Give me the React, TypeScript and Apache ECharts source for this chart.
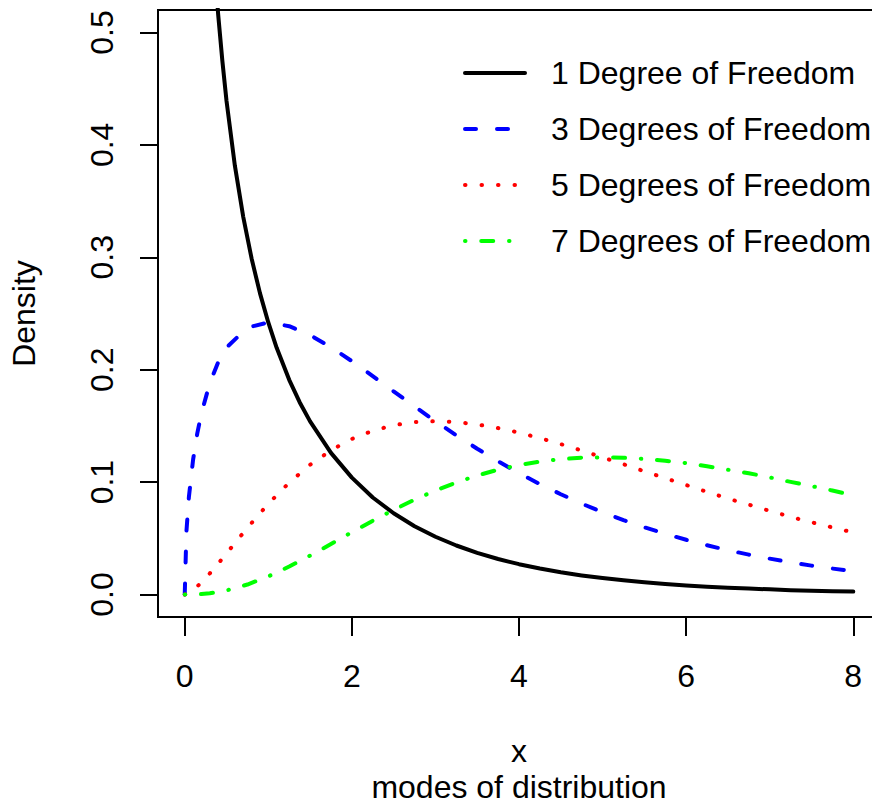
import React, { useEffect, useRef } from "react";
import * as echarts from "echarts";

const xValues = [0, 0.02, 0.05, 0.1, 0.15, 0.2, 0.3, 0.4, 0.5, 0.75, 1, 1.25, 1.5, 1.75, 2, 2.25, 2.5, 2.75, 3, 3.25, 3.5, 3.75, 4, 4.25, 4.5, 4.75, 5, 5.25, 5.5, 5.75, 6, 6.25, 6.5, 6.75, 7, 7.25, 7.5, 7.75, 8];
const xOne = [0.3, 0.35, 0.4, 0.45, 0.5, 0.6, 0.7, 0.8, 0.9, 1, 1.1, 1.25, 1.375, 1.5, 1.75, 2, 2.25, 2.5, 2.75, 3, 3.25, 3.5, 3.75, 4, 4.25, 4.5, 4.75, 5, 5.25, 5.5, 5.75, 6, 6.25, 6.5, 6.75, 7, 7.25, 7.5, 7.75, 8];

const df1 = [0.627, 0.5661, 0.516, 0.4749, 0.439, 0.3815, 0.336, 0.299, 0.2681, 0.242, 0.2195, 0.191, 0.1711, 0.154, 0.126, 0.104, 0.0863, 0.0723, 0.0608, 0.0514, 0.0436, 0.0371, 0.0316, 0.027, 0.0231, 0.0198, 0.017, 0.0146, 0.0126, 0.0109, 0.0094, 0.0081, 0.007, 0.0061, 0.0053, 0.0046, 0.0039, 0.0034, 0.003, 0.0026];
const df3 = [0, 0.0559, 0.087, 0.12, 0.1433, 0.1614, 0.1881, 0.2066, 0.2197, 0.2375, 0.242, 0.2387, 0.2308, 0.22, 0.2076, 0.1943, 0.1807, 0.1673, 0.1542, 0.1416, 0.1297, 0.1185, 0.108, 0.0982, 0.0892, 0.0809, 0.0732, 0.0662, 0.0598, 0.054, 0.0487, 0.0438, 0.0394, 0.0355, 0.0319, 0.0286, 0.0257, 0.0231, 0.0207];
const df5 = [0, 0.0004, 0.0015, 0.004, 0.0072, 0.0108, 0.0188, 0.0275, 0.0366, 0.0594, 0.0807, 0.0995, 0.1154, 0.1283, 0.1384, 0.1457, 0.1506, 0.1534, 0.1542, 0.1534, 0.1513, 0.1481, 0.144, 0.1391, 0.1338, 0.1281, 0.122, 0.1159, 0.1096, 0.1035, 0.0974, 0.0913, 0.0854, 0.0799, 0.0744, 0.0691, 0.0643, 0.0597, 0.0552];
const df7 = [0, 0, 0, 0.0001, 0.0002, 0.0004, 0.0011, 0.0022, 0.0037, 0.0089, 0.0161, 0.0249, 0.0346, 0.0449, 0.0554, 0.0656, 0.0753, 0.0844, 0.0925, 0.0997, 0.1059, 0.1111, 0.1152, 0.1182, 0.1204, 0.1217, 0.122, 0.1217, 0.1206, 0.119, 0.1169, 0.1141, 0.111, 0.1079, 0.1042, 0.1002, 0.0965, 0.0925, 0.0883];

const seriesNames = ["1 Degree of Freedom", "3 Degrees of Freedom", "5 Degrees of Freedom", "7 Degrees of Freedom"];
const seriesColors = ["#000000", "#0000ff", "#ff0000", "#00ff00"];
const xTicks = [0, 2, 4, 6, 8];
const yTicks = [0, 0.1, 0.2, 0.3, 0.4, 0.5];
const xTitle = "x";
const subTitle = "modes of distribution";
const yTitle = "Density";

const FONT = "'Liberation Sans', Arial, Helvetica, sans-serif";
const FS = 32;

export default function App() {
  const ref = useRef<HTMLDivElement>(null);
  useEffect(() => {
    if (!ref.current) return;
    document.body.style.overflow = "hidden";
    const chart = echarts.init(ref.current, null, { renderer: "svg" });
    const all = [df1, df3, df5, df7];
    const xsFor = [xOne, xValues, xValues, xValues];
    const dashes: any[] = ["solid", [11, 21], [0.5, 16], [0.5, 15.75, 12, 15.75]];
    const series = all.map((ys, i) => ({
      name: seriesNames[i],
      type: "line",
      symbol: "none",
      showSymbol: false,
      smooth: false,
      clip: true,
      data: xsFor[i].map((x, j) => [x, ys[j]]),
      lineStyle: { color: seriesColors[i], width: 4, type: dashes[i], cap: "round", join: "round" },
      itemStyle: { color: seriesColors[i] },
    }));
    chart.setOption({
      animation: false,
      backgroundColor: "#ffffff",
      textStyle: { fontFamily: FONT },
      grid: {
        left: 158, top: 10, width: 722, height: 607,
        show: true, borderColor: "#000", borderWidth: 2, backgroundColor: "transparent",
      },
      xAxis: {
        type: "value", min: -0.32, max: 8.32,
        axisLine: { show: false, onZero: false },
        splitLine: { show: false },
        axisTick: { show: true, inside: false, customValues: xTicks, length: 19, lineStyle: { color: "#000", width: 2 } },
        axisLabel: { customValues: xTicks, margin: 43, fontSize: FS, color: "#000", fontFamily: FONT },
      },
      yAxis: {
        type: "value", min: -0.02, max: 0.52,
        axisLine: { show: false, onZero: false },
        splitLine: { show: false },
        axisTick: { show: true, inside: false, customValues: yTicks, length: 18, lineStyle: { color: "#000", width: 2 } },
        axisLabel: {
          customValues: yTicks, margin: 40, rotate: 90, fontSize: FS, color: "#000", fontFamily: FONT,
          formatter: (v: number) => v.toFixed(1),
        },
      },
      legend: {
        orient: "vertical",
        left: 463, top: 57, padding: 0,
        itemWidth: 60, itemHeight: 32, itemGap: 24,
        data: seriesNames,
        itemStyle: { color: "rgba(0,0,0,0)", borderWidth: 0 },
        lineStyle: { width: 4, cap: "round" },
        textStyle: { fontSize: FS, color: "#000", fontFamily: FONT, padding: [0, 0, 0, 21] },
        selectedMode: false,
      },
      graphic: [
        { type: "text", x: 519, y: 751, style: { text: xTitle, fontSize: FS, fontFamily: FONT, fill: "#000", align: "center", verticalAlign: "middle" } },
        { type: "text", x: 519, y: 787, style: { text: subTitle, fontSize: FS, fontFamily: FONT, fill: "#000", align: "center", verticalAlign: "middle" } },
        { type: "text", x: 24, y: 313.5, rotation: Math.PI / 2, style: { text: yTitle, fontSize: FS, fontFamily: FONT, fill: "#000", align: "center", verticalAlign: "middle" } },
      ],
      series,
    });
    return () => chart.dispose();
  }, []);
  return <div ref={ref} style={{ position: "fixed", left: 0, top: 0, width: 890, height: 804 }} />;
}
